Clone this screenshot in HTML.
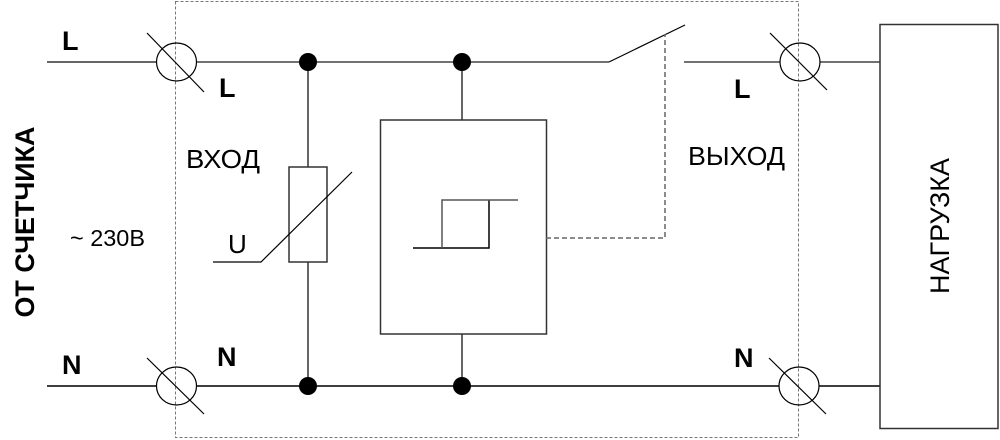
<!DOCTYPE html>
<html><head><meta charset="utf-8"><style>
html,body{margin:0;padding:0;background:#fff;}
svg{display:block;}
text{font-family:"Liberation Sans",sans-serif;fill:#000;}
</style></head><body>
<svg width="1000" height="440" viewBox="0 0 1000 440" xmlns="http://www.w3.org/2000/svg">
<g fill="none" stroke="#000" stroke-width="1.5">
<rect x="175.5" y="1.5" width="623" height="436" stroke="#777" stroke-width="1" stroke-dasharray="3,2"/>
<line x1="47" y1="62" x2="156" y2="62" stroke="#333"/>
<line x1="196" y1="62" x2="609" y2="62" stroke="#444"/>
<line x1="609" y1="62" x2="685" y2="25" stroke-width="1.2"/>
<line x1="684" y1="62" x2="780" y2="62" stroke="#444"/>
<line x1="820" y1="62" x2="880" y2="62" stroke="#444"/>
<line x1="47" y1="386" x2="156" y2="386"/>
<line x1="196" y1="386" x2="779" y2="386"/>
<line x1="819" y1="386" x2="880" y2="386"/>
<g stroke-width="1.2">
<ellipse cx="176.5" cy="62" rx="20" ry="19"/><line x1="147" y1="33" x2="204" y2="92"/>
<ellipse cx="176.5" cy="386" rx="20" ry="19"/><line x1="147" y1="358" x2="204" y2="414"/>
<ellipse cx="800" cy="62" rx="20" ry="19"/><line x1="770" y1="33" x2="827" y2="90"/>
<ellipse cx="799" cy="386" rx="20" ry="19"/><line x1="769" y1="358" x2="826" y2="414"/>
</g>
<line x1="308" y1="62" x2="308" y2="167" stroke="#333"/>
<line x1="308" y1="262" x2="308" y2="386" stroke="#333"/>
<rect x="289" y="167" width="38" height="95" stroke="#333"/>
<polyline points="213,262 261,262 352,172" stroke-width="1.2"/>
<line x1="462" y1="62" x2="462" y2="120" stroke="#333"/>
<line x1="462" y1="334" x2="462" y2="386" stroke="#333"/>
<rect x="380.5" y="120" width="166" height="214" stroke="#333"/>
<polyline points="413,248 489,248 489,200" />
<polyline points="442,248 442,200 518,200" stroke="#555"/>
<polyline points="546,238 665,238 665,34" stroke="#666" stroke-dasharray="5,3"/>
<rect x="880" y="24.5" width="118" height="404" stroke="#333"/>
</g>
<g fill="#000">
<circle cx="308" cy="62" r="9"/><circle cx="462" cy="62" r="9"/>
<circle cx="308" cy="386" r="9"/><circle cx="462" cy="386" r="9"/>
</g>
<g font-weight="bold" font-size="27">
<text x="62" y="50">L</text>
<text x="219" y="97">L</text>
<text x="734" y="98">L</text>
<text x="62" y="374">N</text>
<text x="217" y="366">N</text>
<text x="734" y="367">N</text>
</g>
<text x="186" y="168" font-size="26" textLength="74" lengthAdjust="spacingAndGlyphs">ВХОД</text>
<text x="688" y="165" font-size="26" textLength="97" lengthAdjust="spacingAndGlyphs">ВЫХОД</text>
<text x="70" y="246" font-size="23" textLength="75" lengthAdjust="spacingAndGlyphs">~ 230В</text>
<text x="228" y="253" font-size="26">U</text>
<text transform="translate(34,222) rotate(-90)" text-anchor="middle" font-size="27" font-weight="bold" textLength="191" lengthAdjust="spacingAndGlyphs">ОТ СЧЕТЧИКА</text>
<text transform="translate(949,226) rotate(-90)" text-anchor="middle" font-size="27" textLength="136" lengthAdjust="spacingAndGlyphs">НАГРУЗКА</text>
</svg>
</body></html>
